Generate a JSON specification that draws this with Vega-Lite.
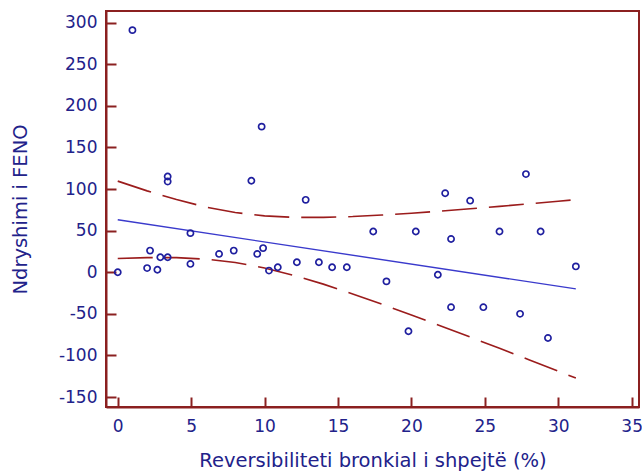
{
  "$schema": "https://vega.github.io/schema/vega-lite/v6.json",
  "width": 533,
  "height": 396,
  "autosize": {"type": "none"},
  "padding": {"left": 106, "top": 11, "right": 3, "bottom": 67},
  "background": "white",
  "config": {
    "view": {"stroke": "#8b2020", "strokeWidth": 2},
    "axis": {
      "domainColor": "#8b2020", "domainWidth": 2,
      "tickColor": "#8b2020", "tickWidth": 2, "tickSize": -10,
      "grid": false,
      "labelFont": "DejaVu Sans", "labelFontSize": 17, "labelColor": "#22228a",
      "titleFont": "DejaVu Sans", "titleFontSize": 19.5, "titleFontWeight": "normal", "titleColor": "#22228a"
    }
  },
  "datasets": {
    "pts": [
      {"x": 0, "y": 0}, {"x": 1.0, "y": 291}, {"x": 2.2, "y": 26}, {"x": 2.0, "y": 5},
      {"x": 2.7, "y": 3}, {"x": 2.9, "y": 18}, {"x": 3.4, "y": 18}, {"x": 3.4, "y": 115},
      {"x": 3.4, "y": 109}, {"x": 4.95, "y": 10}, {"x": 4.95, "y": 47}, {"x": 6.9, "y": 22},
      {"x": 7.9, "y": 26}, {"x": 9.1, "y": 110}, {"x": 9.8, "y": 175}, {"x": 9.5, "y": 22},
      {"x": 9.9, "y": 29}, {"x": 10.3, "y": 2}, {"x": 10.9, "y": 6}, {"x": 12.2, "y": 12},
      {"x": 12.8, "y": 87}, {"x": 13.7, "y": 12}, {"x": 14.6, "y": 6}, {"x": 15.6, "y": 6},
      {"x": 17.4, "y": 49}, {"x": 18.3, "y": -11}, {"x": 19.8, "y": -71}, {"x": 20.3, "y": 49},
      {"x": 21.8, "y": -3}, {"x": 22.3, "y": 95}, {"x": 22.7, "y": 40}, {"x": 22.7, "y": -42},
      {"x": 24.0, "y": 86}, {"x": 24.9, "y": -42}, {"x": 26.0, "y": 49}, {"x": 27.4, "y": -50},
      {"x": 27.8, "y": 118}, {"x": 28.8, "y": 49}, {"x": 29.3, "y": -79}, {"x": 31.2, "y": 7}
    ],
    "fit": [
      {"x": 0, "y": 63}, {"x": 31.2, "y": -20}
    ],
    "band": [
      {"b": "upper", "x": 0, "y": 109.5}, {"b": "upper", "x": 2, "y": 97.8}, {"b": "upper", "x": 4, "y": 87.3},
      {"b": "upper", "x": 6, "y": 78.3}, {"b": "upper", "x": 8, "y": 71.7}, {"b": "upper", "x": 10, "y": 67.7},
      {"b": "upper", "x": 12, "y": 66.0}, {"b": "upper", "x": 14, "y": 65.9}, {"b": "upper", "x": 16, "y": 66.9},
      {"b": "upper", "x": 18, "y": 68.7}, {"b": "upper", "x": 20, "y": 70.9}, {"b": "upper", "x": 22, "y": 73.5},
      {"b": "upper", "x": 24, "y": 76.3}, {"b": "upper", "x": 26, "y": 79.1}, {"b": "upper", "x": 28, "y": 82.2},
      {"b": "upper", "x": 30, "y": 85.4}, {"b": "upper", "x": 31.2, "y": 87.2},
      {"b": "lower", "x": 0, "y": 16.5}, {"b": "lower", "x": 2, "y": 17.6}, {"b": "lower", "x": 4, "y": 17.5},
      {"b": "lower", "x": 6, "y": 15.7}, {"b": "lower", "x": 8, "y": 11.7}, {"b": "lower", "x": 10, "y": 5.1},
      {"b": "lower", "x": 12, "y": -3.8}, {"b": "lower", "x": 14, "y": -14.3}, {"b": "lower", "x": 16, "y": -26.1},
      {"b": "lower", "x": 18, "y": -38.5}, {"b": "lower", "x": 20, "y": -51.3}, {"b": "lower", "x": 22, "y": -64.5},
      {"b": "lower", "x": 24, "y": -77.9}, {"b": "lower", "x": 26, "y": -91.5}, {"b": "lower", "x": 28, "y": -105.2},
      {"b": "lower", "x": 30, "y": -119.0}, {"b": "lower", "x": 31.2, "y": -127.2}
    ]
  },
  "encoding": {
    "x": {
      "field": "x", "type": "quantitative",
      "scale": {"domain": [-0.8, 35.5], "nice": false, "zero": false},
      "axis": {"values": [0, 5, 10, 15, 20, 25, 30, 35], "labelPadding": 21, "title": "Reversibiliteti bronkial i shpejtë (%)", "titlePadding": 17}
    },
    "y": {
      "field": "y", "type": "quantitative",
      "scale": {"domain": [-162, 314], "nice": false, "zero": false},
      "axis": {"values": [-150, -100, -50, 0, 50, 100, 150, 200, 250, 300], "labelPadding": 19, "labelExpr": "replace(datum.label, '−', '-')", "title": "Ndryshimi i FENO", "titlePadding": 28}
    }
  },
  "layer": [
    {
      "data": {"name": "band"},
      "mark": {"type": "line", "color": "#9b1c1c", "strokeWidth": 1.6, "strokeDash": [35, 12]},
      "encoding": {"detail": {"field": "b", "type": "nominal"}}
    },
    {
      "data": {"name": "fit"},
      "mark": {"type": "line", "color": "#3a3acc", "strokeWidth": 1.4}
    },
    {
      "data": {"name": "pts"},
      "mark": {"type": "point", "shape": "circle", "filled": false, "color": "#1f1f9f", "size": 38, "strokeWidth": 1.7, "opacity": 1}
    }
  ]
}
